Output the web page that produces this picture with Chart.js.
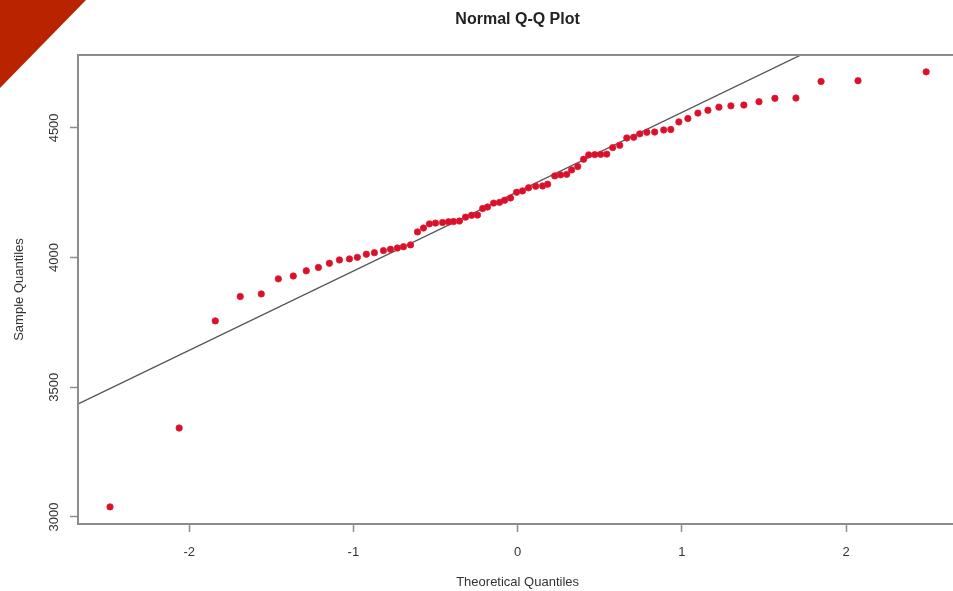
<!DOCTYPE html>
<html>
<head>
<meta charset="utf-8">
<script src="https://cdn.jsdelivr.net/npm/chart.js@4"></script>
<style>
    html, body { margin: 0; padding: 0; background: #fff; overflow: hidden; }
    #wrap { position: relative; width: 953px; height: 591px; overflow: hidden; }
    #corner {
        position: absolute; left: 0; top: 0; width: 86px; height: 88px;
        background: #b92300; clip-path: polygon(0 0, 100% 0, 0 100%);
    }
</style>
</head>
<body>
<div id="wrap">
    <canvas id="qq" width="962" height="591"></canvas>
    <div id="corner"></div>
</div>

<script>
    // theoretical normal quantiles (x) and sorted sample values (y)
    var theoretical = [
        -2.482, -2.061, -1.841, -1.689, -1.561, -1.457, -1.366, -1.287, -1.213, -1.146,
        -1.085, -1.024, -0.976, -0.921, -0.872, -0.817, -0.774, -0.732, -0.695, -0.652,
        -0.610, -0.573, -0.537, -0.500, -0.457, -0.421, -0.390, -0.354, -0.317, -0.280,
        -0.244, -0.213, -0.183, -0.146, -0.110, -0.079, -0.043, -0.006, 0.030, 0.067,
        0.110, 0.152, 0.183, 0.226, 0.262, 0.299, 0.329, 0.366, 0.402, 0.433,
        0.470, 0.506, 0.543, 0.579, 0.622, 0.665, 0.707, 0.744, 0.787, 0.835,
        0.890, 0.933, 0.982, 1.037, 1.098, 1.159, 1.226, 1.299, 1.378, 1.470,
        1.567, 1.695, 1.848, 2.073, 2.488
    ];
    var sample = [
        3039, 3343, 3756, 3850, 3860, 3918, 3929, 3949, 3962, 3978,
        3991, 3995, 4001, 4013, 4019, 4027, 4032, 4037, 4042, 4049,
        4099, 4114, 4130, 4133, 4135, 4138, 4139, 4141, 4156, 4163,
        4164, 4189, 4195, 4210, 4213, 4221, 4230, 4252, 4257, 4269,
        4275, 4276, 4283, 4315, 4319, 4321, 4338, 4351, 4379, 4396,
        4397, 4398, 4399, 4424, 4433, 4461, 4464, 4477, 4483, 4484,
        4492, 4494, 4523, 4536, 4557, 4568, 4580, 4585, 4588, 4601,
        4614, 4615, 4679, 4682, 4716
    ];
    // reference line through the quartiles
    var lineX = [-2.68, 2.68];
    var lineY = [3435, 5073];

    var xTicks = [-2, -1, 0, 1, 2];
    var yTicks = [3000, 3500, 4000, 4500];

    var points = theoretical.map(function (q, i) { return {x: q, y: sample[i]}; });
    var refLine = lineX.map(function (q, i) { return {x: q, y: lineY[i]}; });

    var axisFont = {family: 'Liberation Sans, Arial, sans-serif', size: 13};

    // R-style box round the plot region
    var frame = {
        id: 'frame',
        afterDatasetsDraw: function (chart) {
            var a = chart.chartArea, ctx = chart.ctx;
            ctx.save();
            ctx.strokeStyle = '#8c8c8c';
            ctx.lineWidth = 2;
            ctx.strokeRect(a.left, a.top, a.right - a.left, a.bottom - a.top);
            ctx.restore();
        }
    };

    new Chart(document.getElementById('qq'), {
        type: 'scatter',
        data: {
            datasets: [
                {
                    data: points,
                    backgroundColor: '#d8102c',
                    borderColor: '#e51a33',
                    borderWidth: 0.8,
                    pointRadius: 3.2,
                    order: 1
                },
                {
                    type: 'line',
                    data: refLine,
                    borderColor: '#555555',
                    borderWidth: 1.3,
                    pointRadius: 0,
                    fill: false,
                    order: 2
                }
            ]
        },
        options: {
            responsive: false,
            animation: false,
            layout: {padding: 0},
            plugins: {
                legend: {display: false},
                tooltip: {enabled: false},
                title: {
                    display: true,
                    text: 'Normal Q-Q Plot',
                    fullSize: false,
                    color: '#222',
                    font: {family: 'Liberation Sans, Arial, sans-serif', size: 16, weight: 'bold', lineHeight: 1.2},
                    padding: {top: 10, bottom: 25.8}
                }
            },
            scales: {
                x: {
                    type: 'linear',
                    min: -2.677,
                    max: 2.677,
                    afterFit: function (s) { s.height = 67; },
                    afterBuildTicks: function (s) { s.ticks = xTicks.map(function (v) { return {value: v}; }); },
                    border: {display: false},
                    grid: {drawOnChartArea: false, drawTicks: true, tickLength: 8, tickColor: '#8c8c8c', tickWidth: 1.5},
                    ticks: {font: axisFont, color: '#333', padding: 13, includeBounds: false,
                        callback: function (v) { return String(v); }},
                    title: {display: true, text: 'Theoretical Quantiles', font: axisFont, color: '#333', padding: {top: 0, bottom: 1}}
                },
                y: {
                    type: 'linear',
                    min: 2973,
                    max: 4781,
                    afterFit: function (s) { s.width = 78; },
                    afterBuildTicks: function (s) { s.ticks = yTicks.map(function (v) { return {value: v}; }); },
                    border: {display: false},
                    grid: {drawOnChartArea: false, drawTicks: true, tickLength: 8, tickColor: '#8c8c8c', tickWidth: 1.5},
                    ticks: {font: axisFont, color: '#333', padding: 1, minRotation: 90, maxRotation: 90, crossAlign: 'center', includeBounds: false,
                        callback: function (v) { return String(v); }},
                    title: {display: true, text: 'Sample Quantiles', font: axisFont, color: '#333', padding: {top: 12, bottom: 0}}
                }
            }
        },
        plugins: [frame]
    });
</script>
</body>
</html>
